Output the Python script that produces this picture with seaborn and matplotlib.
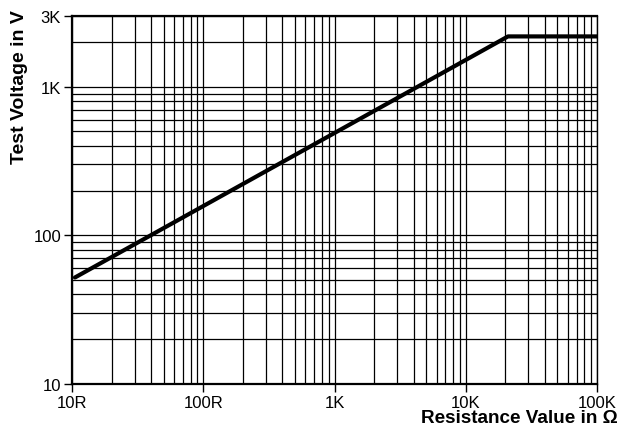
import numpy as np
import pandas as pd
import seaborn as sns
import matplotlib.pyplot as plt
from matplotlib.ticker import FixedLocator, LogLocator, NullFormatter

# curve: test voltage vs resistance
resistance = [10.5, 21000, 100000]
voltage = [52, 2180, 2180]

x_ticks = [10, 100, 1000, 10000, 100000]
x_labels = ['10R', '100R', '1K', '10K', '100K']
y_ticks = [10, 100, 1000, 3000]
y_labels = ['10', '100', '1K', '3K']

sns.set_style('white')
plt.rcParams['font.family'] = ['Liberation Sans', 'DejaVu Sans']
plt.rcParams['text.color'] = 'black'
plt.rcParams['xtick.color'] = 'black'
plt.rcParams['ytick.color'] = 'black'

df = pd.DataFrame({'R': resistance, 'V': voltage})

fig, ax = plt.subplots(figsize=(6.33, 4.31), dpi=100)
fig.subplots_adjust(left=0.114, right=0.943, top=0.961, bottom=0.107)

ax.set_xscale('log')
ax.set_yscale('log')
sns.lineplot(data=df, x='R', y='V', ax=ax, color='black', linewidth=3.0, zorder=5)

ax.set_xlim(10, 100000)
ax.set_ylim(10, 3000)

ax.xaxis.set_major_locator(FixedLocator(x_ticks))
ax.xaxis.set_minor_locator(LogLocator(base=10, subs=np.arange(2, 10)))
ax.xaxis.set_minor_formatter(NullFormatter())
ax.set_xticklabels(x_labels)
ax.yaxis.set_major_locator(FixedLocator(y_ticks))
ax.yaxis.set_minor_locator(LogLocator(base=10, subs=np.arange(2, 10)))
ax.yaxis.set_minor_formatter(NullFormatter())
ax.set_yticklabels(y_labels)

ax.grid(True, which='both', color='black', linewidth=0.9)
ax.tick_params(which='major', length=6, width=1, color='black', labelcolor='black',
               labelsize=12, pad=2, direction='out', left=True, bottom=True)
ax.tick_params(which='minor', length=0)
for side in ['left', 'bottom', 'top', 'right']:
    ax.spines[side].set_color('black')
    ax.spines[side].set_linewidth(1.0)
ax.spines['left'].set_linewidth(1.6)
ax.spines['bottom'].set_linewidth(1.6)
ax.spines['top'].set_linewidth(1.6)

ax.set_xlabel('')
ax.set_ylabel('')
# axis titles placed like the datasheet: x title right, y title at top
ax.text(1.04, -0.103, 'Resistance Value in Ω', transform=ax.transAxes, color='black',
        fontsize=13.6, fontweight='bold', ha='right', va='baseline')
ax.text(-0.101, 1.019, 'Test Voltage in V', transform=ax.transAxes, color='black',
        fontsize=14, fontweight='bold', rotation=90, ha='center', va='top')

fig.savefig('out.png', dpi=100)
